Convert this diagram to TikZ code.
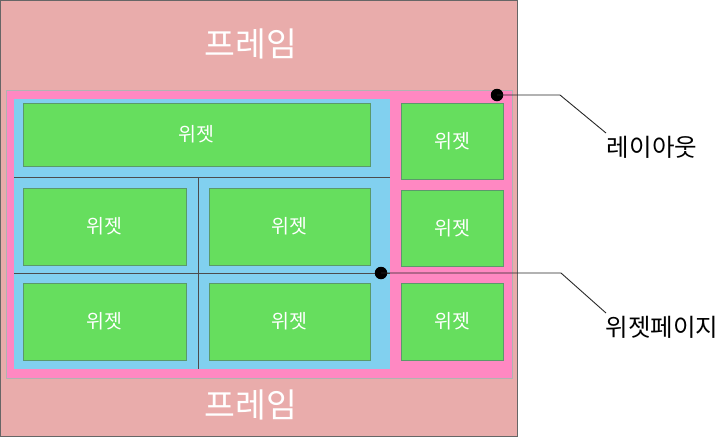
\documentclass[tikz,border=0pt]{standalone}
\usepackage{fontspec}
\newfontfamily\kr{Noto Sans CJK KR}
\definecolor{framec}{HTML}{E9ACAB}
\definecolor{layc}{HTML}{FF88C2}
\definecolor{pagec}{HTML}{81D0EF}
\definecolor{widc}{HTML}{66DE5E}
\definecolor{widb}{HTML}{5A9A6A}
\tikzset{
  framebox/.style={draw=gray!80!black, fill=framec, line width=0.8pt},
  laybox/.style={draw=gray!60, fill=layc, line width=0.6pt},
  pagebox/.style={fill=pagec},
  gridline/.style={draw=gray!60!black, line width=0.6pt},
  wid/.style={draw=widb, fill=widc, line width=0.8pt},
  widtext/.style={text=white, font=\kr\fontsize{19.5}{22}\selectfont},
  frametext/.style={text=white, font=\kr\fontsize{33.5}{38}\selectfont},
  lbl/.style={text=black, font=\kr\fontsize{24.5}{28}\selectfont},
  dot/.style={circle, fill=black, inner sep=0pt, minimum size=12.5pt},
  callout/.style={draw=black!85, line width=0.9pt}
}
\begin{document}
\begin{tikzpicture}[x=1pt,y=-1pt]
\useasboundingbox (0,0) rectangle (717,437);
% frame
\draw[framebox] (0.5,0.5) rectangle (517,436.5);
\node[frametext] (ftop) at (251,44) {프레임};
\node[frametext] (fbot) at (251,405) {프레임};
% layout
\draw[laybox] (6,90) rectangle (512,378);
% widget page
\fill[pagebox] (14,99) rectangle (390,369);
\draw[gridline] (14,177) -- (390,177);
\draw[gridline] (14,273) -- (390,273);
\draw[gridline] (198,177) -- (198,369);
% widgets
\draw[wid] (23,103) rectangle (370,166);
\node[widtext] (w1) at (196.5,134.5) {위젯};
\draw[wid] (23,188) rectangle (186,265);
\node[widtext] (w2) at (104.5,226.5) {위젯};
\draw[wid] (209,188) rectangle (370,265);
\node[widtext] (w3) at (289.5,226.5) {위젯};
\draw[wid] (23,283) rectangle (186,360);
\node[widtext] (w4) at (104.5,321.5) {위젯};
\draw[wid] (209,283) rectangle (370,360);
\node[widtext] (w5) at (289.5,321.5) {위젯};
\draw[wid] (401,103) rectangle (503,179);
\node[widtext] (w6) at (452,141) {위젯};
\draw[wid] (401,190) rectangle (503,266);
\node[widtext] (w7) at (452,228) {위젯};
\draw[wid] (401,283) rectangle (503,360);
\node[widtext] (w8) at (452,321.5) {위젯};
% callouts
\node[dot] (d1) at (497,95) {};
\coordinate (b1) at (560,95);
\coordinate (e1) at (606,133);
\node[lbl, anchor=center] (l1) at (652,147) {레이아웃};
\draw[callout] (d1.center) -- (b1) -- (e1);
\node[dot] (d2) at (381,273) {};
\coordinate (b2) at (561,273);
\coordinate (e2) at (606,313);
\node[lbl, anchor=center] (l2) at (662,327) {위젯페이지};
\draw[callout] (d2.center) -- (b2) -- (e2);
\end{tikzpicture}
\end{document}
